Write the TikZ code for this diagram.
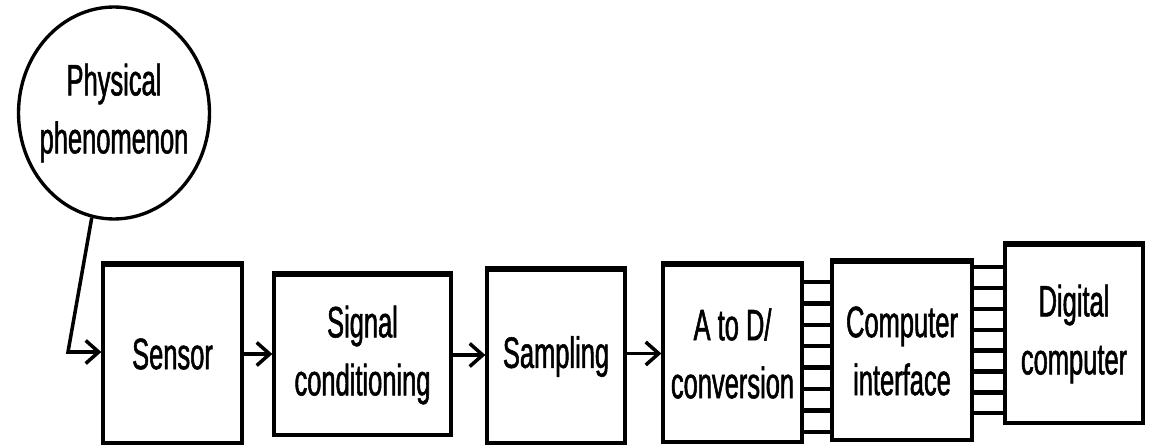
\documentclass[tikz,border=0pt]{standalone}
\usepackage{fontspec}
\setmainfont{Liberation Sans}[FakeStretch=0.58, FakeBold=1.2]
\usepackage{tikz}
\usetikzlibrary{shapes.geometric, arrows.meta, positioning, calc}
\tikzstyle{block} = [draw, rectangle, line width=1.9pt, inner sep=0pt, align=center, font=\fontsize{25pt}{33pt}\selectfont]
\tikzstyle{arrow} = [line width=2pt, -{Straight Barb[length=0.26cm, width=0.46cm, line width=2pt]}]
\tikzstyle{bus} = [line width=2.4pt]

\begin{document}
\begin{tikzpicture}[x=0.02cm, y=-0.02cm]
    \useasboundingbox (0,0) rectangle (1158,446);

    % Source
    \node (phen) [block, ellipse, inner xsep=-0.3cm, minimum width=3.82cm, minimum height=4.24cm] at (114,113) {Physical\\phenomenon};

    % Measurement chain
    \node (sensor) [block, minimum width=2.78cm, minimum height=3.56cm] at (172.5,354) {Sensor};
    \node (sigcond) [block, minimum width=3.54cm, minimum height=3.2cm] at (362.5,355) {Signal\\conditioning};
    \node (sampling) [block, minimum width=2.76cm, minimum height=3.46cm] at (556,356.5) {Sampling};
    \node (atod) [block, minimum width=2.78cm, minimum height=3.54cm] at (732.5,353.5) {A to D/\\conversion};
    \node (compif) [block, minimum width=2.8cm, minimum height=3.56cm] at (902,351) {Computer\\interface};
    \node (digital) [block, minimum width=2.76cm, minimum height=3.56cm] at (1074,334) {Digital\\computer};

    % heavier top edges
    \foreach \n in {sensor, sigcond, sampling, atod, compif, digital}
        \draw [line width=3.2pt] (\n.north west) -- (\n.north east);

    % Connections
    \coordinate (bend) at (68,352);
    \draw [arrow] (phen.258) -- (bend) -- (bend -| sensor.west);
    \draw [arrow] (sensor.east) -- (sensor.east -| sigcond.west);
    \draw [arrow] (sigcond.east) -- (sigcond.east -| sampling.west);
    \draw [arrow] (atod.west -| sampling.east) -- (atod.west);

    % Parallel buses
    \foreach \k in {0,...,7} {
        \coordinate (busa) at (0,{282+21.4*\k});
        \coordinate (busb) at (0,{267+20.9*\k});
        \draw [bus] (atod.east |- busa) -- (compif.west |- busa);
        \draw [bus] (compif.east |- busb) -- (digital.west |- busb);
    }
\end{tikzpicture}
\end{document}
